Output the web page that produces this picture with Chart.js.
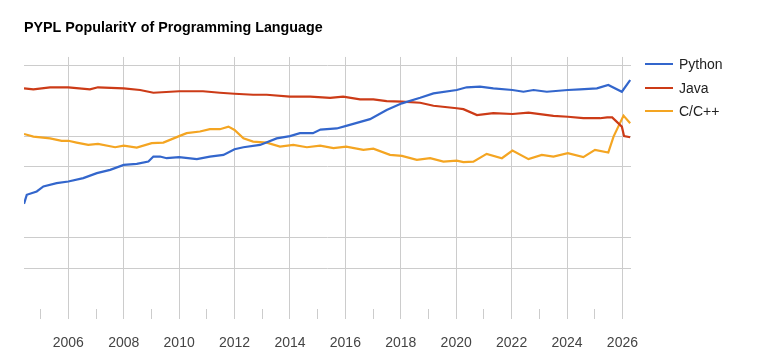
<!DOCTYPE html>
<html>
<head>
<meta charset="utf-8">
<script src="https://cdn.jsdelivr.net/npm/chart.js@4/dist/chart.umd.min.js"></script>
<style>
  html, body { margin: 0; padding: 0; background: #fff; }
  #wrap { position: relative; width: 760px; height: 355px; }
  #c { position: absolute; left: 0; top: 0; }
  .lg { position: absolute; left: 645px; height: 18px; font: 14px "Liberation Sans", Arial, sans-serif; color: #222; white-space: nowrap; }
  .lg .sw { position: absolute; left: 0; top: 8px; width: 28px; height: 2px; }
  .lg .tx { position: absolute; left: 34px; top: 0; line-height: 18px; }
</style>
</head>
<body>
<div id="wrap">
  <canvas id="c" width="760" height="355"></canvas>
  <div id="legend"></div>
</div>
<script>
const seriesNames = ["Python", "Java", "C/C++"];
const seriesColors = ["#3366cc", "#cc3b17", "#f4a522"];

const pythonYears = [2004.40, 2004.50, 2004.86, 2005.10, 2005.58, 2006.00, 2006.54, 2007.03, 2007.51, 2008.00, 2008.47, 2008.89, 2009.07, 2009.31, 2009.55, 2010.00, 2010.64, 2011.11, 2011.60, 2012.00, 2012.32, 2012.92, 2013.52, 2014.00, 2014.36, 2014.83, 2015.10, 2015.69, 2016.03, 2016.89, 2017.49, 2018.04, 2018.70, 2019.18, 2020.02, 2020.38, 2020.86, 2021.34, 2022.03, 2022.43, 2022.79, 2023.27, 2024.03, 2024.47, 2025.08, 2025.49, 2025.98, 2026.28];
const pythonShare = [2.16, 2.65, 2.86, 3.20, 3.45, 3.58, 3.87, 4.33, 4.66, 5.22, 5.34, 5.62, 6.30, 6.30, 6.07, 6.21, 5.94, 6.30, 6.54, 7.44, 7.78, 8.20, 9.50, 10.0, 10.7, 10.7, 11.6, 11.9, 12.6, 14.7, 18.1, 21.0, 23.8, 26.3, 28.4, 30.2, 30.6, 29.5, 28.4, 27.3, 28.4, 27.3, 28.4, 28.8, 29.5, 31.8, 27.3, 35.6];

const javaYears = [2004.40, 2004.74, 2005.34, 2006.00, 2006.78, 2007.07, 2008.00, 2008.59, 2009.07, 2010.00, 2010.86, 2011.47, 2012.00, 2012.67, 2013.16, 2014.00, 2014.73, 2015.45, 2015.92, 2016.53, 2017.01, 2017.49, 2018.04, 2018.70, 2019.18, 2020.02, 2020.26, 2020.75, 2021.34, 2022.03, 2022.61, 2023.51, 2024.03, 2024.59, 2025.19, 2025.45, 2025.63, 2025.98, 2026.06, 2026.28];
const javaShare = [29.5, 28.8, 30.2, 30.2, 28.8, 30.2, 29.5, 28.4, 26.7, 27.6, 27.6, 26.7, 26.1, 25.5, 25.5, 24.4, 24.4, 23.8, 24.4, 23.0, 23.0, 22.1, 21.8, 21.3, 19.9, 18.8, 18.4, 16.1, 16.8, 16.5, 17.0, 15.8, 15.5, 15.0, 15.0, 15.3, 15.3, 12.4, 10.0, 9.75];

const cppYears = [2004.40, 2004.74, 2005.34, 2005.76, 2006.00, 2006.30, 2006.72, 2007.07, 2007.69, 2008.00, 2008.47, 2009.01, 2009.43, 2010.00, 2010.27, 2010.75, 2011.11, 2011.47, 2011.78, 2012.00, 2012.32, 2012.67, 2013.16, 2013.64, 2014.12, 2014.61, 2015.09, 2015.57, 2016.03, 2016.65, 2017.01, 2017.61, 2018.04, 2018.58, 2019.06, 2019.54, 2020.02, 2020.26, 2020.62, 2021.10, 2021.65, 2022.03, 2022.61, 2023.09, 2023.51, 2024.03, 2024.59, 2025.01, 2025.49, 2025.68, 2026.04, 2026.28];
const cppShare = [10.5, 9.9, 9.5, 8.97, 9.0, 8.64, 8.20, 8.39, 7.78, 8.07, 7.71, 8.52, 8.64, 10.0, 10.7, 11.1, 11.7, 11.7, 12.4, 11.5, 9.5, 8.83, 8.64, 7.89, 8.20, 7.78, 8.07, 7.61, 7.89, 7.32, 7.54, 6.54, 6.40, 5.84, 6.07, 5.62, 5.75, 5.55, 5.62, 6.69, 6.07, 7.21, 5.94, 6.54, 6.30, 6.80, 6.21, 7.32, 6.89, 9.9, 15.9, 13.4];

const yGridValues = [0.5, 1, 5, 10, 50];
const xTickYears = [2005, 2006, 2007, 2008, 2009, 2010, 2011, 2012, 2013, 2014, 2015, 2016, 2017, 2018, 2019, 2020, 2021, 2022, 2023, 2024, 2025, 2026];
const xLabelYears = [2006, 2008, 2010, 2012, 2014, 2016, 2018, 2020, 2022, 2024, 2026];

const titleText = "PYPL PopularitY of Programming Language";

function pts(xs, ys) { return xs.map((x, i) => ({ x: x, y: ys[i] })); }
const allX = [pythonYears, javaYears, cppYears];
const allY = [pythonShare, javaShare, cppShare];

const datasets = seriesNames.map((n, i) => ({
  label: n,
  data: pts(allX[i], allY[i]),
  borderColor: seriesColors[i],
  backgroundColor: seriesColors[i],
  borderWidth: 2.2,
  pointRadius: 0,
  tension: 0,
  fill: false
}));

const FONT = '"Liberation Sans", Arial, sans-serif';

new Chart(document.getElementById('c'), {
  type: 'line',
  data: { datasets: datasets },
  options: {
    responsive: false,
    animation: false,
    devicePixelRatio: 1,
    layout: { padding: { left: 24, right: 129, top: 0, bottom: 0 } },
    plugins: {
      legend: { display: false },
      tooltip: { enabled: false },
      title: {
        display: true,
        text: titleText,
        align: 'start',
        color: '#000',
        font: { family: FONT, size: 14.3, weight: 'bold' },
        padding: { top: 19, bottom: 20.8 }
      }
    },
    scales: {
      x: {
        type: 'linear',
        min: 2004.4,
        max: 2026.31,
        afterBuildTicks: (s) => { s.ticks = xTickYears.map(v => ({ value: v })); },
        afterFit: (s) => { s.height = 46; },
        ticks: {
          autoSkip: false,
          maxRotation: 0,
          padding: 16,
          color: '#444',
          font: { family: FONT, size: 14 },
          callback: (v) => xLabelYears.includes(v) ? String(v) : ''
        },
        grid: {
          color: (ctx) => (ctx.tick && xLabelYears.includes(ctx.tick.value)) ? '#cccccc' : 'rgba(0,0,0,0)',
          tickColor: '#cccccc',
          tickLength: 10,
          lineWidth: 1
        },
        border: { display: false }
      },
      y: {
        type: 'logarithmic',
        min: 0.2,
        max: 60,
        afterBuildTicks: (s) => { s.ticks = yGridValues.map(v => ({ value: v })); },
        ticks: { display: false },
        grid: { color: '#cccccc', lineWidth: 1, drawTicks: false },
        border: { display: false }
      }
    }
  }
});

const lg = document.getElementById('legend');
const legendTops = [55, 79, 102];
seriesNames.forEach((n, i) => {
  const d = document.createElement('div');
  d.className = 'lg';
  d.style.top = legendTops[i] + 'px';
  d.innerHTML = '<span class="sw" style="background:' + seriesColors[i] + '"></span><span class="tx"></span>';
  d.querySelector('.tx').textContent = n;
  lg.appendChild(d);
});
</script>
</body>
</html>
